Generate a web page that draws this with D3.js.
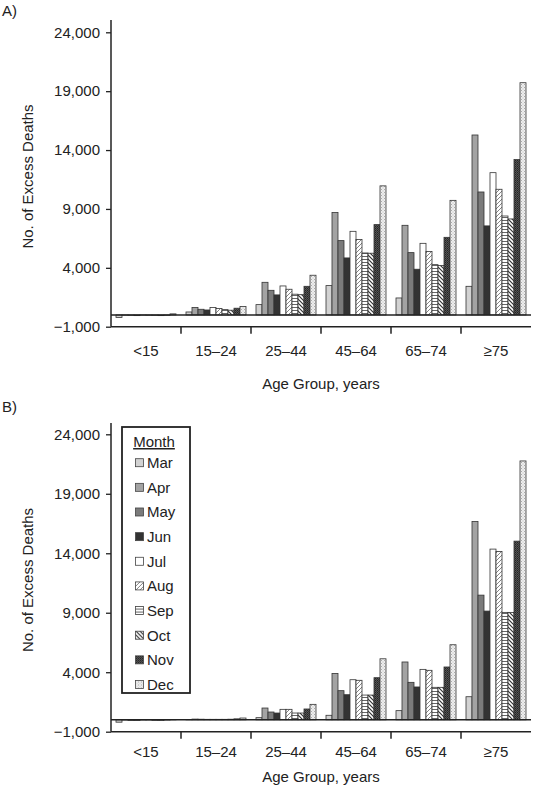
<!DOCTYPE html>
<html><head><meta charset="utf-8">
<script src="https://cdn.jsdelivr.net/npm/d3@7"></script>
<style>
body{margin:0;background:#fff;}
svg{display:block;font-family:"Liberation Sans",Arial,sans-serif;}
</style></head>
<body>
<svg id="chart" width="534" height="787"></svg>
<script>
const ageGroups = ["<15", "15–24", "25–44", "45–64", "65–74", "≥75"];
const months = ["Mar", "Apr", "May", "Jun", "Jul", "Aug", "Sep", "Oct", "Nov", "Dec"];
const yTicks = [-1000, 4000, 9000, 14000, 19000, 24000];

// Panel A: excess deaths by month, one array per age group
const panelA_under15 = [-220, -20, -30, -60, -20, -30, -50, -60, -30, 90];
const panelA_15to24  = [250, 630, 480, 420, 630, 540, 450, 400, 570, 710];
const panelA_25to44  = [875, 2770, 2090, 1700, 2460, 2180, 1760, 1720, 2430, 3370];
const panelA_45to64  = [2490, 8690, 6310, 4840, 7100, 6400, 5260, 5240, 7670, 10960];
const panelA_65to74  = [1440, 7610, 5290, 3880, 6080, 5380, 4270, 4190, 6590, 9730];
const panelA_75plus  = [2430, 15280, 10440, 7560, 12080, 10670, 8400, 8150, 13190, 19720];

// Panel B
const panelB_under15 = [-200, -20, -50, -50, -20, -20, -50, -50, -20, 30];
const panelB_15to24  = [20, 60, 50, 40, 40, 40, 40, 50, 80, 150];
const panelB_25to44  = [180, 990, 655, 570, 880, 880, 570, 570, 910, 1300];
const panelB_45to64  = [380, 3900, 2450, 2110, 3370, 3320, 2080, 2080, 3540, 5130];
const panelB_65to74  = [770, 4860, 3150, 2760, 4240, 4160, 2730, 2730, 4440, 6310];
const panelB_75plus  = [1940, 16670, 10480, 9140, 14350, 14150, 9030, 9030, 15020, 21760];

const panelA = [panelA_under15, panelA_15to24, panelA_25to44, panelA_45to64, panelA_65to74, panelA_75plus];
const panelB = [panelB_under15, panelB_15to24, panelB_25to44, panelB_45to64, panelB_65to74, panelB_75plus];

const svg = d3.select("#chart");
const defs = svg.append("defs");
const ink = "#222";

// patterns
function pat(id, w, h, build) {
  const p = defs.append("pattern").attr("id", id).attr("patternUnits", "userSpaceOnUse")
    .attr("width", w).attr("height", h);
  build(p);
}
pat("pAug", 4, 4, p => {
  p.append("rect").attr("width", 4).attr("height", 4).attr("fill", "#fff");
  p.append("path").attr("d", "M0,4 L4,0 M-1,1 L1,-1 M3,5 L5,3").attr("stroke", "#777").attr("stroke-width", 0.9);
});
pat("pSep", 4, 3, p => {
  p.append("rect").attr("width", 4).attr("height", 3).attr("fill", "#fff");
  p.append("path").attr("d", "M0,1.5 L4,1.5").attr("stroke", "#666").attr("stroke-width", 1);
});
pat("pOct", 4, 4, p => {
  p.append("rect").attr("width", 4).attr("height", 4).attr("fill", "#fff");
  p.append("path").attr("d", "M0,0 L4,4 M-1,3 L1,5 M3,-1 L5,1").attr("stroke", "#333").attr("stroke-width", 1.2);
});
pat("pNov", 2, 2, p => {
  p.append("rect").attr("width", 2).attr("height", 2).attr("fill", "#555");
  p.append("rect").attr("width", 1).attr("height", 1).attr("fill", "#222");
  p.append("rect").attr("x", 1).attr("y", 1).attr("width", 1).attr("height", 1).attr("fill", "#333");
});
pat("pDec", 3, 3, p => {
  p.append("rect").attr("width", 3).attr("height", 3).attr("fill", "#eee");
  p.append("rect").attr("width", 1).attr("height", 1).attr("fill", "#aaa");
  p.append("rect").attr("x", 1.5).attr("y", 1.5).attr("width", 1).attr("height", 1).attr("fill", "#bbb");
});

const fills = ["#d2d2d2", "#a3a3a3", "#7b7b7b", "#333333", "#ffffff",
  "url(#pAug)", "url(#pSep)", "url(#pOct)", "url(#pNov)", "url(#pDec)"];
const color = d3.scaleOrdinal().domain(months).range(fills);

function drawPanel(data, opts) {
  const g = svg.append("g");
  const y = d3.scaleLinear().domain([-1000, 24000]).range([opts.yBottom, opts.yTop]);
  const x0 = d3.scaleBand().domain(ageGroups).range([111, 531]).padding(0);
  const x1 = d3.scaleBand().domain(months).range([5, x0.bandwidth() - 5]).padding(0);

  // bars
  const rows = ageGroups.map((a, i) => ({ age: a, vals: months.map((m, j) => ({ m, v: data[i][j] })) }));
  const grp = g.selectAll("g.grp").data(rows).join("g").attr("transform", d => `translate(${x0(d.age)},0)`);
  grp.selectAll("rect").data(d => d.vals).join("rect")
    .attr("x", d => x1(d.m))
    .attr("width", x1.bandwidth())
    .attr("y", d => y(Math.max(0, d.v)))
    .attr("height", d => Math.abs(y(d.v) - y(0)))
    .attr("fill", d => color(d.m))
    .attr("stroke", "#333").attr("stroke-width", 0.8);

  // zero line
  g.append("line").attr("x1", 111).attr("x2", 531).attr("y1", y(0)).attr("y2", y(0))
    .attr("stroke", ink).attr("stroke-width", 1.5);

  // y axis
  const ya = g.append("g").attr("transform", "translate(111,0)")
    .call(d3.axisLeft(y).tickValues(yTicks).tickSize(5).tickPadding(6)
      .tickFormat(d => d < 0 ? "\u2212" + d3.format(",")(-d) : d3.format(",")(d)));
  ya.select(".domain").remove();
  ya.selectAll("line").attr("stroke", ink).attr("stroke-width", 1.3);
  ya.selectAll("text").attr("font-size", 15).attr("fill", ink).attr("font-family", "Liberation Sans, Arial, sans-serif");
  g.append("line").attr("x1", 111).attr("x2", 111).attr("y1", opts.axisTop).attr("y2", y(-1000))
    .attr("stroke", ink).attr("stroke-width", 1.5);

  // x axis
  g.append("line").attr("x1", 111).attr("x2", 531).attr("y1", y(-1000)).attr("y2", y(-1000))
    .attr("stroke", ink).attr("stroke-width", 1.5);
  g.selectAll("line.xt").data(ageGroups.slice(1)).join("line").attr("class", "xt")
    .attr("x1", d => x0(d)).attr("x2", d => x0(d))
    .attr("y1", y(-1000)).attr("y2", y(-1000) + 7).attr("stroke", ink).attr("stroke-width", 1.5);
  g.selectAll("text.xl").data(ageGroups).join("text").attr("class", "xl")
    .attr("x", d => x0(d) + x0.bandwidth() / 2).attr("y", y(-1000) + opts.tickLabelOff)
    .attr("text-anchor", "middle").attr("font-size", 15).attr("fill", ink).text(d => d);

  g.append("text").attr("x", 321).attr("y", y(-1000) + opts.titleOff).attr("text-anchor", "middle")
    .attr("font-size", 15).attr("fill", ink).text("Age Group, years");
  g.append("text").attr("transform", `translate(33,${(opts.yTop + opts.yBottom) / 2 - 3}) rotate(-90)`)
    .attr("text-anchor", "middle").attr("font-size", 15).attr("fill", ink).text("No. of Excess Deaths");
  g.append("text").attr("x", 2).attr("y", opts.labelY).attr("font-size", 15).attr("fill", ink).text(opts.label);
  return { y };
}

drawPanel(panelA, { yTop: 32.3, yBottom: 326.7, axisTop: 20, label: "A)", labelY: 16, tickLabelOff: 29, titleOff: 62 });
drawPanel(panelB, { yTop: 434.3, yBottom: 731.7, axisTop: 423, label: "B)", labelY: 412, tickLabelOff: 25, titleOff: 50 });

// legend
const lg = svg.append("g");
lg.append("rect").attr("x", 122).attr("y", 427).attr("width", 68).attr("height", 266)
  .attr("fill", "#fff").attr("stroke", ink).attr("stroke-width", 1.8);
lg.append("text").attr("x", 154).attr("y", 447).attr("text-anchor", "middle")
  .attr("font-size", 15).attr("fill", ink).attr("text-decoration", "underline").text("Month");
const ly = d3.scalePoint().domain(months).range([462.7, 684.5]);
const items = lg.selectAll("g.it").data(months).join("g").attr("class", "it")
  .attr("transform", d => `translate(0,${ly(d)})`);
items.append("rect").attr("x", 135.5).attr("y", -4).attr("width", 8).attr("height", 8)
  .attr("fill", d => color(d)).attr("stroke", "#444").attr("stroke-width", 0.8);
items.append("text").attr("x", 147).attr("y", 5.5).attr("font-size", 15).attr("fill", ink).text(d => d);
</script>
</body></html>
